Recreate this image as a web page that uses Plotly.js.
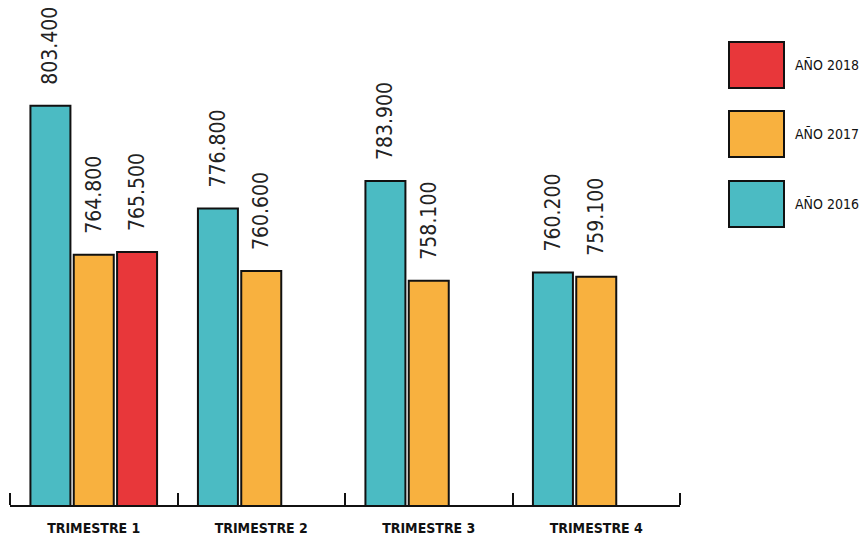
<!DOCTYPE html>
<html>
<head>
<meta charset="utf-8">
<script src="https://cdn.plot.ly/plotly-3.0.1.min.js"></script>
<style>
html,body{margin:0;padding:0;background:#fff}
#chart{width:863px;height:537px}
#chart svg text{font-stretch:condensed !important;}
</style>
</head>
<body>
<div id="chart"></div>
<script>
var categories = ["TRIMESTRE 1", "TRIMESTRE 2", "TRIMESTRE 3", "TRIMESTRE 4"];
var seriesNames = ["AÑO 2016", "AÑO 2017", "AÑO 2018"];
var values2016 = [803400, 776800, 783900, 760200];
var values2017 = [764800, 760600, 758100, 759100];
var values2018 = [765500, null, null, null];
var seriesColors = ["#4BBBC3", "#F8B13F", "#E8373A"];

var FONT = "'DejaVu Sans Condensed', 'DejaVu Sans', sans-serif";
var allValues = [values2016, values2017, values2018];

var traces = allValues.map(function (vals, i) {
  return {
    type: "bar",
    name: seriesNames[i],
    x: categories,
    y: vals,
    marker: { color: seriesColors[i], line: { color: "#111111", width: 2 } },
    texttemplate: "\u00a0\u00a0\u00a0%{y:,.0f}",
    textposition: "outside",
    textangle: -90,
    constraintext: "none",
    cliponaxis: false,
    outsidetextfont: { family: FONT, size: 21, color: "#222222" },
    hoverinfo: "x+y+name",
    showlegend: false
  };
});

// custom large legend swatches (reversed order, 2018 on top)
var shapes = [], annotations = [];
var legTop = [37, 106, 176];
for (var k = 0; k < seriesNames.length; k++) {
  var idx = seriesNames.length - 1 - k;
  shapes.push({
    type: "rect", xref: "paper", yref: "paper",
    xsizemode: "pixel", ysizemode: "pixel", xanchor: 1, yanchor: 1,
    x0: 49, x1: 104, y0: -legTop[k], y1: -(legTop[k] + 46),
    fillcolor: seriesColors[idx], line: { color: "#111111", width: 2 }
  });
  annotations.push({
    xref: "paper", yref: "paper", x: 1, y: 1,
    xanchor: "left", yanchor: "middle", xshift: 113, yshift: -(legTop[k] + 23),
    text: seriesNames[idx], showarrow: false,
    font: { family: FONT, size: 14, color: "#111111" }
  });
}
// end ticks of the category axis
[0, 1].forEach(function (px) {
  shapes.push({
    type: "line", xref: "paper", yref: "paper",
    ysizemode: "pixel", yanchor: 0,
    x0: px, x1: px, y0: 0, y1: 12,
    line: { color: "#111111", width: 2 }
  });
});

var layout = {
  width: 863, height: 537,
  margin: { l: 10, r: 183, t: 5, b: 32, pad: 0 },
  paper_bgcolor: "#ffffff", plot_bgcolor: "#ffffff",
  barmode: "group", bargap: 0.224, bargroupgap: 0.077,
  separators: ",.",
  showlegend: false,
  font: { family: FONT, color: "#111111" },
  xaxis: {
    type: "category",
    range: [-0.5, 3.5],
    showline: true, linecolor: "#111111", linewidth: 2,
    ticks: "inside", tickson: "boundaries", ticklen: 12, tickwidth: 2, tickcolor: "#111111",
    ticklabelstandoff: 9,
    tickfont: { family: FONT, size: 14, color: "#111111", weight: "bold" },
    showgrid: false, zeroline: false, fixedrange: true
  },
  yaxis: {
    range: [700000, 829500],
    visible: false, showgrid: false, zeroline: false, fixedrange: true
  },
  shapes: shapes,
  annotations: annotations
};

Plotly.newPlot("chart", traces, layout, { displayModeBar: false, staticPlot: true });
</script>
</body>
</html>
